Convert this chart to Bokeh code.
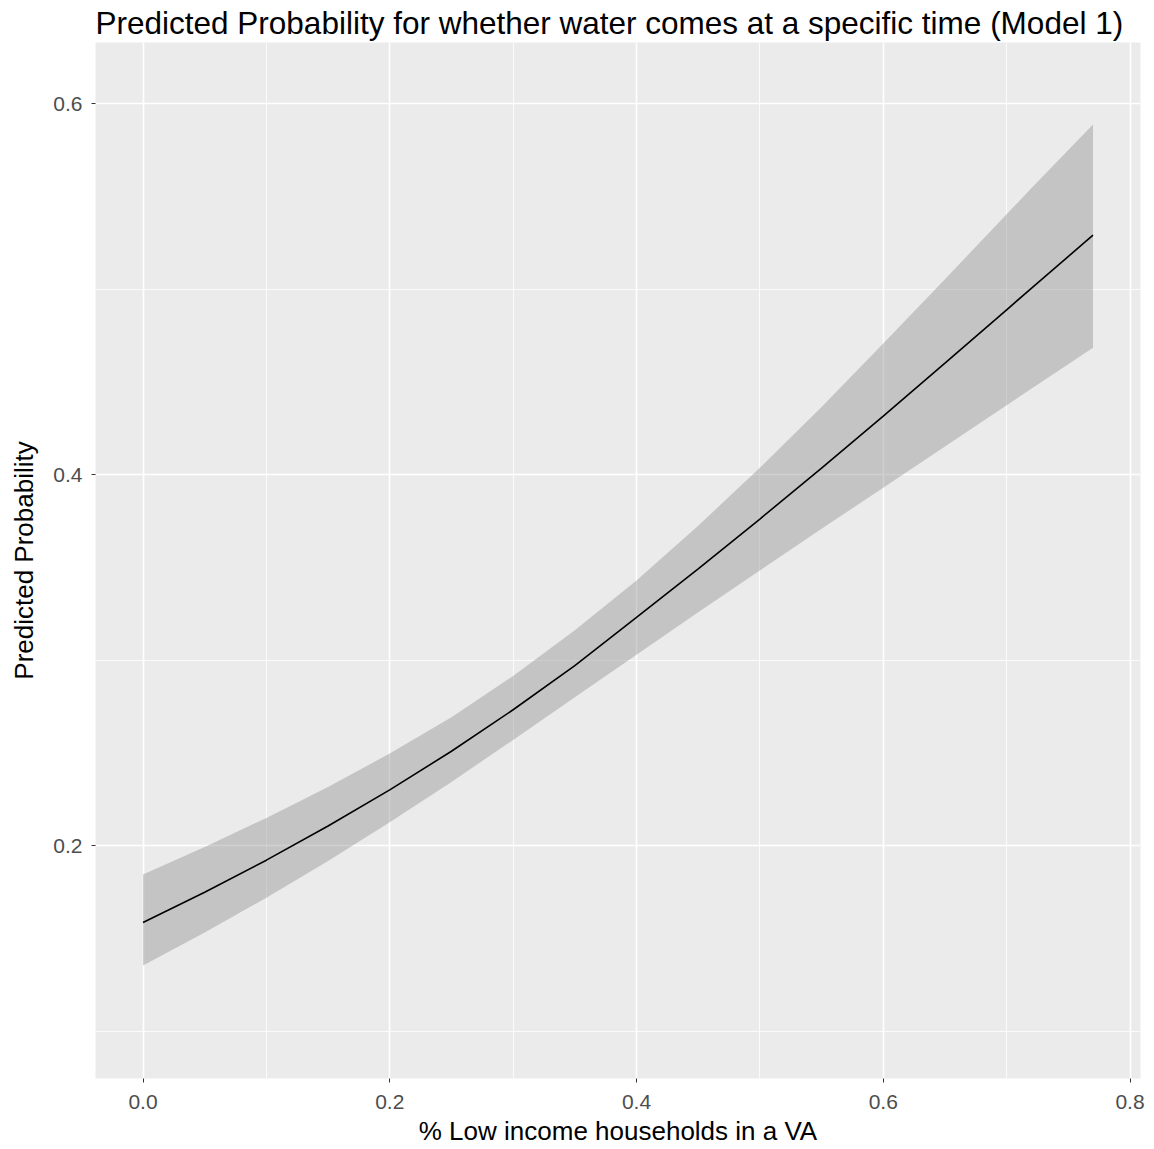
from bokeh.plotting import figure
from bokeh.models import FixedTicker, PrintfTickFormatter, ColumnDataSource, Range1d
from bokeh.embed import file_html
from bokeh.resources import INLINE

# Data
x_vals = [0.0, 0.05, 0.1, 0.15, 0.2, 0.25, 0.3, 0.35, 0.4, 0.45, 0.5, 0.55, 0.6, 0.65, 0.7, 0.72, 0.77]
fit = [0.1585, 0.1748, 0.1921, 0.2105, 0.2300, 0.2508, 0.2732, 0.2970, 0.3230, 0.3492,
       0.3760, 0.4035, 0.4315, 0.4600, 0.4888, 0.5004, 0.5290]
upper = [0.1844, 0.1992, 0.2149, 0.2316, 0.2496, 0.2692, 0.2914, 0.3160, 0.3429, 0.3724,
         0.4036, 0.4364, 0.4706, 0.5053, 0.5403, 0.5543, 0.5887]
lower = [0.1353, 0.1531, 0.1719, 0.1917, 0.2125, 0.2343, 0.2569, 0.2799, 0.3029, 0.3257,
         0.3483, 0.3707, 0.3929, 0.4151, 0.4373, 0.4462, 0.4684]

x_major = [0.0, 0.2, 0.4, 0.6, 0.8]
x_minor = [0.1, 0.3, 0.5, 0.7]
y_major = [0.2, 0.4, 0.6]
y_minor = [0.1, 0.3, 0.5]

title_text = "Predicted Probability for whether water comes at a specific time (Model 1)"
x_label = "% Low income households in a VA"
y_label = "Predicted Probability"

FONT = "Liberation Sans"

p = figure(width=1154, height=1149, output_backend="svg", toolbar_location=None,
           x_range=Range1d(-0.0385, 0.8085), y_range=Range1d(0.0744, 0.6329),
           title=title_text)
p.min_border_left = 95
p.min_border_right = 14
p.min_border_top = 42
p.min_border_bottom = 71

p.background_fill_color = "#EBEBEB"
p.border_fill_color = "white"
p.outline_line_color = None

p.title.text_font = FONT
p.title.text_font_size = "31.5px"
p.title.text_font_style = "normal"
p.title.text_color = "black"
p.title.standoff = 3
p.title.offset = 0

src = ColumnDataSource(dict(x=x_vals, fit=fit, upper=upper, lower=lower))
p.varea(x="x", y1="lower", y2="upper", source=src, fill_color="#8A8A8A", fill_alpha=0.4)
p.line(x="x", y="fit", source=src, line_color="black", line_width=1.6)

p.xaxis.ticker = FixedTicker(ticks=x_major, minor_ticks=x_minor)
p.yaxis.ticker = FixedTicker(ticks=y_major, minor_ticks=y_minor)
p.xaxis.formatter = PrintfTickFormatter(format="%.1f")
p.yaxis.formatter = PrintfTickFormatter(format="%.1f")

for ax in (p.xaxis, p.yaxis):
    ax.axis_line_color = None
    ax.major_tick_line_color = "#333333"
    ax.major_tick_out = 4
    ax.major_tick_in = 0
    ax.minor_tick_line_color = None
    ax.major_label_text_font = FONT
    ax.major_label_text_font_size = "21px"
    ax.major_label_text_color = "#4D4D4D"
    ax.axis_label_text_font = FONT
    ax.axis_label_text_font_size = "26px"
    ax.axis_label_text_font_style = "normal"
    ax.axis_label_text_color = "black"

p.xaxis.axis_label = x_label
p.yaxis.axis_label = y_label
p.xaxis.major_label_standoff = 12
p.yaxis.major_label_standoff = 9
p.xaxis.axis_label_standoff = 4
p.yaxis.axis_label_standoff = 11

p.xgrid.grid_line_color = "white"
p.ygrid.grid_line_color = "white"
p.xgrid.grid_line_width = 1.6
p.ygrid.grid_line_width = 1.6
p.xgrid.minor_grid_line_color = "white"
p.ygrid.minor_grid_line_color = "white"
p.xgrid.minor_grid_line_width = 0.8
p.ygrid.minor_grid_line_width = 0.8

open("out.html", "w").write(file_html(p, INLINE))
